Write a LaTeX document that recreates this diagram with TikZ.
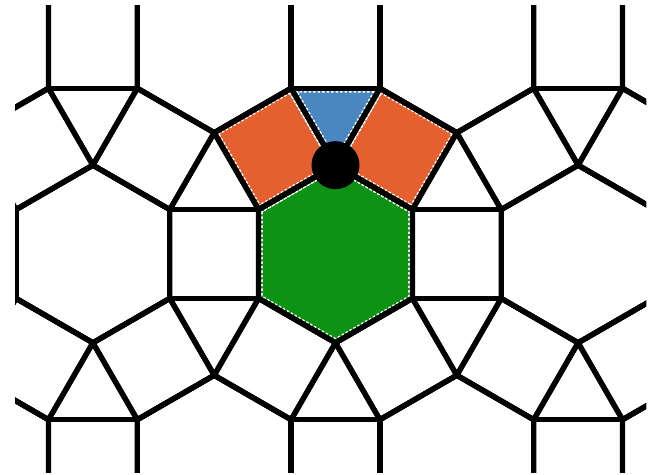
\documentclass[tikz,border=0pt]{standalone}
\usetikzlibrary{calc}
\definecolor{tileorange}{HTML}{E4602E}
\definecolor{tileblue}{HTML}{4A86C0}
\definecolor{tilegreen}{HTML}{0D9214}

\begin{document}
\begin{tikzpicture}[
    x=0.02cm, y=0.02cm,
    edge/.style={
        draw=black, line width=0.105cm, line join=round,
    },
    tint/.style={
        draw=white, line width=0.17cm, dash pattern=on 0.05cm off 0.04cm,
    },
]
\def\side{88.8}
\def\dx{242.6}
\def\dy{210.1}

\useasboundingbox (0,0) rectangle (652,475);
\coordinate (hub) at (335.5,221);

\begin{scope}
\clip (15,2) rectangle (646,469);

% Coloured tiles round the marked vertex
\begin{scope}[shift={(hub)}]
    \filldraw[fill=tilegreen, tint]
        (30:\side) -- (90:\side) -- (150:\side) -- (210:\side) -- (270:\side) -- (330:\side) -- cycle;
    \filldraw[fill=tileorange, tint]
        (30:\side) -- (90:\side) -- ++(60:\side) -- ++(-30:\side) -- cycle;
    \filldraw[fill=tileorange, tint]
        (90:\side) -- (150:\side) -- ++(120:\side) -- ++(30:\side) -- cycle;
    \filldraw[fill=tileblue, tint]
        (90:\side) -- ++(60:\side) -- ++(180:\side) -- cycle;
\end{scope}

% Hexagons with their squares (the triangles close up between them)
\foreach \row in {-1,0,1}{
    \foreach \col in {-2,...,2}{
        \pgfmathsetmacro\cx{335.5+\col*\dx+\row*\dx/2}
        \pgfmathsetmacro\cy{221+\row*\dy}
        \begin{scope}[shift={(\cx,\cy)}]
            \draw[edge] (30:\side) -- (90:\side) -- (150:\side) -- (210:\side) -- (270:\side) -- (330:\side) -- cycle;
            \foreach \dir in {0,60,...,300}
                \draw[edge] (\dir-30:\side) -- (\dir+30:\side) -- ++(\dir:\side) -- ++(\dir-90:\side) -- cycle;
        \end{scope}
    }
}
\end{scope}

% Marked vertex
\node[circle, fill=black, inner sep=0pt, minimum size=0.96cm] (joint) at ($(hub)+(90:\side)$) {};

\end{tikzpicture}
\end{document}
